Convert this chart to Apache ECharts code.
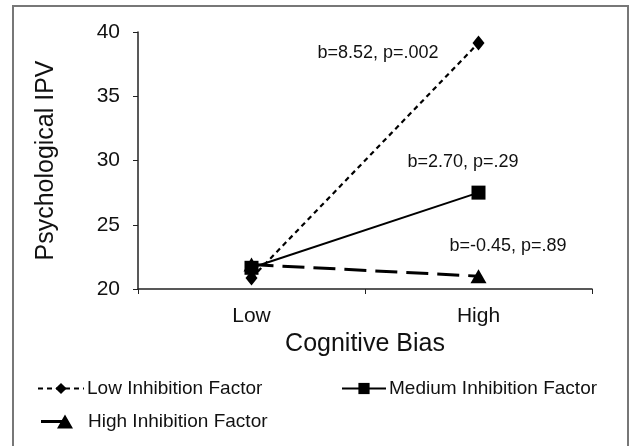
<!DOCTYPE html>
<html>
<head>
<meta charset="utf-8">
<script src="https://cdn.jsdelivr.net/npm/echarts@6/dist/echarts.min.js"></script>
<style>
  html, body { margin: 0; padding: 0; background: #fff; }
  #chart { width: 631px; height: 446px; }
</style>
</head>
<body>
<div id="chart"></div>
<script>
// === ДАННЫЕ ===
const categories = ['Low', 'High'];
const lowInhibition = [20.85, 39.15];
const mediumInhibition = [21.65, 27.5];
const highInhibition = [21.9, 21.0];
const yTicks = { min: 20, max: 40, interval: 5 };
const seriesNames = ['Low Inhibition Factor', 'Medium Inhibition Factor', 'High Inhibition Factor'];
const annotations = ['b=8.52, p=.002', 'b=2.70, p=.29', 'b=-0.45, p=.89'];

const font = 'Liberation Sans, Arial, sans-serif';
const chart = echarts.init(document.getElementById('chart'));

function legendBox(item, left, top, width, textPad) {
    return {
        data: [item],
        left: left,
        top: top,
        itemWidth: width,
        itemHeight: 14,
        itemGap: 4,
        selectedMode: false,
        textStyle: { fontFamily: font, fontSize: 19, color: '#111', padding: [0, 0, 0, textPad] }
    };
}

// значок «линия + треугольник на конце», как в оригинале
const highIcon = 'path://M0,5.5 L24,5.5 L24,8.5 L0,8.5 Z M24,0 L32,14 L16,14 Z';

const option = {
    animation: false,
    grid: { left: 138, right: 39, top: 32, bottom: 157 },
    legend: [
        legendBox(seriesNames[0], 32, 374, 46, -2),
        legendBox(seriesNames[1], 336, 374, 44, -2),
        legendBox({ name: seriesNames[2], icon: highIcon }, 36, 407, 32, 10)
    ],
    xAxis: {
        type: 'category',
        data: categories,
        name: 'Cognitive Bias',
        nameLocation: 'middle',
        nameGap: 41,
        nameTextStyle: { fontFamily: font, fontSize: 25, color: '#111' },
        axisLine: { lineStyle: { color: '#222', width: 1.5 } },
        axisTick: { show: true, length: 5, lineStyle: { color: '#222' } },
        axisLabel: { fontFamily: font, fontSize: 21, color: '#111', margin: 17 }
    },
    yAxis: {
        type: 'value',
        min: yTicks.min,
        max: yTicks.max,
        interval: yTicks.interval,
        name: 'Psychological IPV',
        nameLocation: 'middle',
        nameGap: 79,
        nameTextStyle: { fontFamily: font, fontSize: 25, color: '#111' },
        splitLine: { show: false },
        axisLine: { show: true, lineStyle: { color: '#222', width: 1.5 } },
        axisTick: { show: true, length: 5, lineStyle: { color: '#222' } },
        axisLabel: { fontFamily: font, fontSize: 21, color: '#111', margin: 18 }
    },
    series: [
        {
            name: seriesNames[0],
            type: 'line',
            data: lowInhibition,
            symbol: 'diamond',
            symbolSize: [12, 15],
            z: 3,
            itemStyle: { color: '#000' },
            lineStyle: { color: '#000', width: 2.2, type: [5, 4] }
        },
        {
            name: seriesNames[1],
            type: 'line',
            data: mediumInhibition,
            symbol: 'rect',
            symbolSize: 14,
            z: 4,
            itemStyle: { color: '#000' },
            lineStyle: { color: '#000', width: 2, type: 'solid' }
        },
        {
            name: seriesNames[2],
            type: 'line',
            data: highInhibition,
            symbol: 'triangle',
            symbolSize: [16, 14],
            z: 2,
            itemStyle: { color: '#000' },
            lineStyle: { color: '#000', width: 3, type: [22, 9] }
        }
    ],
    graphic: [
        {
            type: 'rect',
            shape: { x: 13, y: 6, width: 615, height: 460 },
            style: { fill: 'none', stroke: '#777', lineWidth: 2 },
            silent: true
        },
        {
            type: 'text', x: 378, y: 53,
            style: { text: annotations[0], font: '18px ' + font, fill: '#111', align: 'center', verticalAlign: 'middle' }
        },
        {
            type: 'text', x: 463, y: 162,
            style: { text: annotations[1], font: '18px ' + font, fill: '#111', align: 'center', verticalAlign: 'middle' }
        },
        {
            type: 'text', x: 508, y: 246,
            style: { text: annotations[2], font: '18px ' + font, fill: '#111', align: 'center', verticalAlign: 'middle' }
        }
    ]
};

chart.setOption(option);
</script>
</body>
</html>
